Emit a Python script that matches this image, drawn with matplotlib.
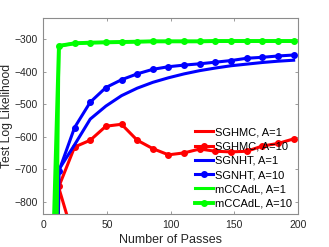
import matplotlib
matplotlib.use("Agg")
import matplotlib.pyplot as plt

plt.rcParams['font.family'] = ['Liberation Sans', 'DejaVu Sans']

# passes at which the test log likelihood was evaluated
passes = [0, 12.3, 24.6, 36.9, 49.2, 61.5, 73.8, 86.1, 98.4, 110.7, 123.0,
          135.3, 147.6, 159.9, 172.2, 184.5, 196.8]

sghmc_a1 = [-3000, -758, -920, -1150, -1250, -1320, -1380, -1420, -1460, -1490,
            -1510, -1530, -1550, -1560, -1570, -1580, -1590]
sghmc_a10 = [-3000, -752, -631, -610, -567, -561, -610, -636, -655, -649, -637,
             -644, -646, -644, -628, -620, -606]
sgnht_a1 = [-3000, -700, -624, -545, -505, -473, -450, -432, -418, -406, -396,
            -388, -381, -376, -371, -367, -364]
sgnht_a10 = [-3000, -705, -571, -493, -448, -424, -406, -392, -384, -379, -375,
             -370, -365, -358, -355, -351, -348]
mccadl_a1 = [-5000, -320, -312, -310, -309, -308, -307, -306, -306, -306, -306,
             -305, -305, -305, -305, -305, -305]
mccadl_a10 = [-2000, -320, -312, -310, -309, -308, -307, -306, -306, -306, -306,
              -305, -305, -305, -305, -305, -305]

fig = plt.figure(figsize=(3.29, 2.47), dpi=100)
ax = fig.add_axes([0.1316, 0.1336, 0.7734, 0.7924])

ax.plot(passes, sghmc_a1, color='#ff0000', lw=2.2, label='SGHMC, A=1')
ax.plot(passes, sghmc_a10, color='#ff0000', lw=2.2, marker='o', ms=4,
        label='SGHMC, A=10')
ax.plot(passes, sgnht_a1, color='#0000ff', lw=2.2, label='SGNHT, A=1')
ax.plot(passes, sgnht_a10, color='#0000ff', lw=2.2, marker='o', ms=4,
        label='SGNHT, A=10')
ax.plot(passes, mccadl_a1, color='#00ff00', lw=2.2, label='mCCAdL, A=1')
ax.plot(passes, mccadl_a10, color='#00ff00', lw=2.8, marker='o', ms=4,
        label='mCCAdL, A=10')

ax.set_xlim(0, 200)
ax.set_ylim(-837, -235)
ax.set_xticks([0, 50, 100, 150, 200])
ax.set_yticks([-800, -700, -600, -500, -400, -300])

for sp in ax.spines.values():
    sp.set_color('0.55')
    sp.set_linewidth(0.8)
ax.tick_params(direction='in', top=True, right=True, length=2.5,
               width=0.6, color='0.55', labelsize=7.5, labelcolor='0.15', pad=4)

ax.set_xlabel('Number of Passes', fontsize=9, color='0.15', labelpad=3)
ax.set_ylabel('Test Log Likelihood', fontsize=8.7, color='0.15')
ax.yaxis.set_label_coords(-0.118, 0.5)

ax.legend(loc='lower right', frameon=False, fontsize=8, handlelength=1.6,
          handletextpad=0.2, labelspacing=0.38, borderaxespad=0.3,
          borderpad=0.2)

fig.savefig('out.png', dpi=100)
